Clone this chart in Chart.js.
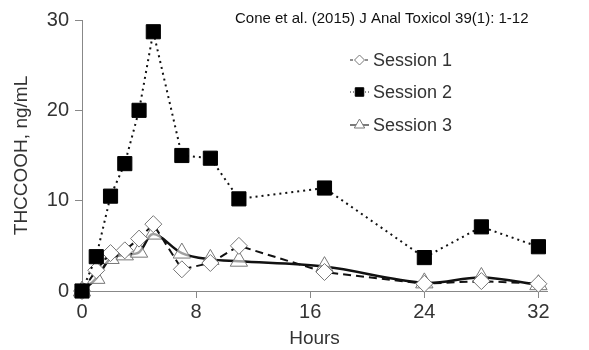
<!DOCTYPE html>
<html>
<head>
<meta charset="utf-8">
<script src="https://cdn.jsdelivr.net/npm/chart.js@4/dist/chart.umd.min.js"></script>
<style>
	html, body { margin: 0; padding: 0; background: #fff; }
	#wrap { width: 589px; height: 350px; }
</style>
</head>
<body>
<div id="wrap"><canvas id="thc"></canvas></div>
<script>
// Sampling times (hours)
const hours = [ 0, 1, 2, 3, 4, 5, 7, 9, 11, 17, 24, 28, 32 ];

// THCCOOH, ng/mL per session
const session1 = [ 0, 2.3, 4.2, 4.5, 5.8, 7.4, 2.4, 3.1, 5.0, 2.1, 0.8, 1.1, 0.8 ];
const session2 = [ 0, 3.8, 10.5, 14.1, 20.0, 28.7, 15.0, 14.7, 10.2, 11.4, 3.7, 7.1, 4.9 ];
const session3 = [ 0, 1.4, 3.6, 4.0, 4.3, 6.3, 4.2, 3.5, 3.3, 2.7, 0.9, 1.5, 0.7 ];

const xTicks = [ 0, 8, 16, 24, 32 ];
const yTicks = [ 0, 10, 20, 30 ];
const citation = 'Cone et al. (2015) J Anal Toxicol 39(1): 1-12';

function toPoints( ys ) {
	return hours.map( function ( h, i ) { return { x: h, y: ys[ i ] }; } );
}

// Legend drawn inside the plot area, like the original figure
const insideLegend = {
	id: 'insideLegend',
	afterDraw: function ( chart ) {
		const ctx = chart.ctx;
		ctx.save();
		// citation
		ctx.fillStyle = '#111';
		ctx.font = '15px "Liberation Sans", Arial, sans-serif';
		ctx.textAlign = 'left';
		ctx.textBaseline = 'middle';
		ctx.fillText( citation, 235, 19 );

		const rows = [ 60, 92, 125 ];
		chart.data.datasets.forEach( function ( ds, i ) {
			const y = rows[ i ];
			ctx.strokeStyle = '#222';
			ctx.lineWidth = 1.2;
			ctx.setLineDash( ds.legendDash );
			ctx.beginPath();
			ctx.moveTo( 350, y );
			ctx.lineTo( 369, y );
			ctx.stroke();
			ctx.setLineDash( [] );
			ctx.fillStyle = ds.legendFill;
			ctx.strokeStyle = ds.pointBorderColor;
			ctx.lineWidth = 1;
			Chart.helpers.drawPoint( ctx, {
				pointStyle: ds.pointStyle,
				radius: ds.legendRadius,
				borderWidth: 1
			}, 359.5, y );
			ctx.fillStyle = '#333';
			ctx.font = '18px "Liberation Sans", Arial, sans-serif';
			ctx.fillText( ds.label, 373, y + 1 );
		} );
		ctx.restore();
	}
};

const ctx = document.getElementById( 'thc' ).getContext( '2d' );
new Chart( ctx, {
	type: 'line',
	data: {
		datasets: [
			{
				label: 'Session 1',
				data: toPoints( session1 ),
				borderColor: '#111',
				borderWidth: 2,
				borderDash: [ 8, 5 ],
				pointStyle: 'rectRot',
				pointRadius: 8.5,
				pointBackgroundColor: '#fff',
				pointBorderColor: '#777',
				pointBorderWidth: 1,
				legendDash: [ 3, 2 ],
				legendRadius: 5,
				legendFill: '#fff',
				tension: 0,
				order: 2
			},
			{
				label: 'Session 2',
				data: toPoints( session2 ),
				borderColor: '#111',
				borderWidth: 2,
				borderDash: [ 2, 4 ],
				pointStyle: 'rect',
				pointRadius: 10,
				pointBackgroundColor: '#000',
				pointBorderColor: '#000',
				pointBorderWidth: 1,
				legendDash: [ 1, 2 ],
				legendRadius: 6,
				legendFill: '#000',
				tension: 0,
				order: 1
			},
			{
				label: 'Session 3',
				data: toPoints( session3 ),
				borderColor: '#111',
				borderWidth: 2.5,
				borderDash: [],
				pointStyle: 'triangle',
				pointRadius: 10,
				pointBackgroundColor: 'rgba(255,255,255,0.6)',
				pointBorderColor: '#777',
				pointBorderWidth: 1,
				legendDash: [],
				legendRadius: 6,
				legendFill: '#fff',
				tension: 0.35,
				order: 3
			}
		]
	},
	options: {
		responsive: true,
		maintainAspectRatio: false,
		animation: false,
		clip: false,
		layout: { padding: { top: 20, right: 42, left: 0, bottom: 0 } },
		plugins: {
			legend: { display: false },
			tooltip: { enabled: false }
		},
		scales: {
			x: {
				type: 'linear',
				min: 0,
				max: 32.6,
				afterBuildTicks: function ( scale ) {
					scale.ticks = xTicks.map( function ( v ) { return { value: v }; } );
				},
				afterFit: function ( scale ) { scale.height = 59; },
				grid: { drawOnChartArea: false, tickLength: 7, color: '#888', tickColor: '#888' },
				border: { color: '#888', width: 1 },
				ticks: {
					color: '#333',
					padding: 2,
					maxRotation: 0,
					font: { family: '"Liberation Sans", Arial, sans-serif', size: 20 }
				},
				title: {
					display: true,
					text: 'Hours',
					color: '#333',
					padding: { top: 0, bottom: 0 },
					font: { family: '"Liberation Sans", Arial, sans-serif', size: 19 }
				}
			},
			y: {
				min: 0,
				max: 30,
				afterBuildTicks: function ( scale ) {
					scale.ticks = yTicks.map( function ( v ) { return { value: v }; } );
				},
				afterFit: function ( scale ) { scale.width = 82; },
				grid: { drawOnChartArea: false, tickLength: 7, color: '#888', tickColor: '#888' },
				border: { color: '#888', width: 1 },
				ticks: {
					color: '#333',
					padding: 6,
					font: { family: '"Liberation Sans", Arial, sans-serif', size: 20 }
				},
				title: {
					display: true,
					text: 'THCCOOH, ng/mL',
					color: '#333',
					padding: { top: 10, bottom: 4 },
					font: { family: '"Liberation Sans", Arial, sans-serif', size: 19 }
				}
			}
		}
	},
	plugins: [ insideLegend ]
} );
</script>
</body>
</html>
